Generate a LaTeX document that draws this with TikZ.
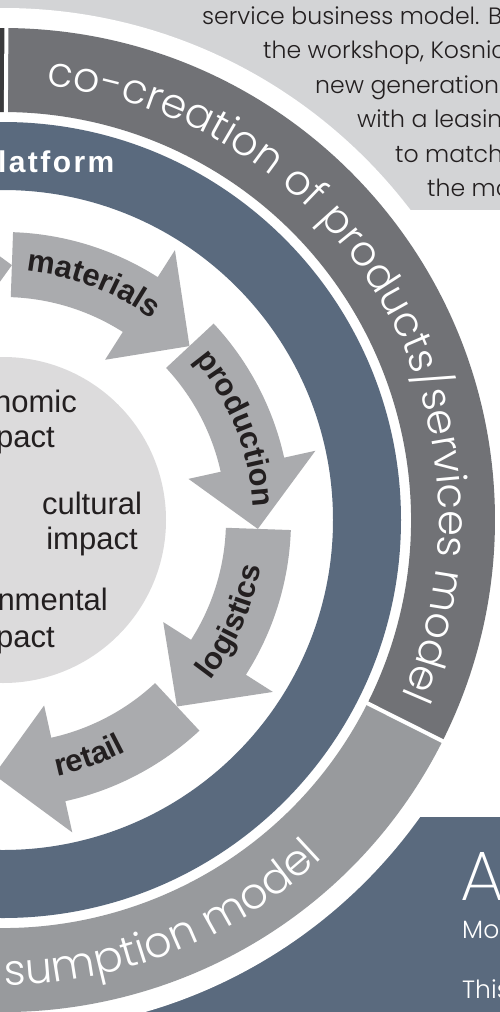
\documentclass[tikz,border=0pt]{standalone}
\usepackage{fontspec}
\setmainfont{Liberation Sans}
\IfFontExistsTF{Poppins Light}{\newfontfamily\gothic{Poppins Light}}{\newfontfamily\gothic{Poppins}}
\IfFontExistsTF{Poppins ExtraLight}{\newfontfamily\gothicthin{Poppins ExtraLight}}{\newfontfamily\gothicthin{Poppins}}
\newfontfamily\platfont{Liberation Sans}[LetterSpace=8]
\usetikzlibrary{decorations.text}
\definecolor{panelgray}{HTML}{D3D4D6}
\definecolor{ringdark}{HTML}{717276}
\definecolor{ringlight}{HTML}{989A9D}
\definecolor{ringblack}{HTML}{3A3A3C}
\definecolor{slate}{HTML}{5A6A7E}
\definecolor{arrowgray}{HTML}{AAABAE}
\definecolor{innergray}{HTML}{DCDBDC}
\definecolor{textdark}{HTML}{231F20}
\newcommand\arrowfnt{\fontsize{31pt}{31pt}\selectfont\bfseries}
\newcommand\ringfnt{\gothic\fontsize{41.5pt}{41.5pt}\selectfont}
\newcommand\ringfntb{\gothic\fontsize{43pt}{43pt}\selectfont}
\newcommand\annsector[5]{\fill[#1] (#2:#5) arc[start angle=#2,end angle=#3,radius=#5] -- (#3:#4) arc[start angle=#3,end angle=#2,radius=#4] -- cycle;}
\newcommand\cyclearrow[1]{%
  \pgfmathsetmacro\myArB{#1-30.5}%
  \pgfmathsetmacro\myArP{#1-45}%
  \fill[arrowgray] (#1:288pt) arc[start angle=#1,end angle=\myArB,radius=288pt]
    -- (\myArB:320pt) -- (\myArP:255pt) -- (\myArB:190pt) -- (\myArB:223pt)
    arc[start angle=\myArB,end angle=#1,radius=223pt] -- cycle;}
\tikzset{
  impact/.style={inner sep=0pt, text=textdark, font=\fontsize{31pt}{36pt}\selectfont},
  paneltext/.style={inner sep=0pt, anchor=base west, text=textdark, font=\gothic\fontsize{23.6pt}{30pt}\selectfont},
  boxtext/.style={inner sep=0pt, anchor=base west, text=white, font=\gothic\fontsize{25pt}{30pt}\selectfont},
  separator/.style={white, line width=4pt}
}
\begin{document}
\begin{tikzpicture}
\useasboundingbox (0,0) rectangle (500pt,-1012pt);
\clip (0,0) rectangle (500pt,-1012pt);
\fill[white] (0,0) rectangle (500pt,-1012pt);
\fill[panelgray] (0,0) rectangle (500pt,-210pt);
\fill[slate] (100pt,-817pt) rectangle (500pt,-1012pt);
\begin{scope}[shift={(3pt,-520pt)}]
  \coordinate (C) at (0,0);
  \fill[white] (C) circle[radius=512pt];
  \annsector{ringdark}{89.6}{-26.7}{408pt}{492pt}
  \annsector{ringlight}{-26.7}{-200}{408pt}{492pt}
  \annsector{ringblack}{200}{89.6}{408pt}{492pt}
  \draw[separator] (89.6:400pt) -- (89.6:500pt);
  \draw[separator] (-26.7:400pt) -- (-26.7:500pt);
  \fill[slate, even odd rule] (C) circle[radius=398pt] (C) circle[radius=330pt];
  \fill[innergray] (C) circle[radius=163pt];
  \cyclearrow{133}
  \cyclearrow{88}
  \cyclearrow{43}
  \cyclearrow{-2}
  \cyclearrow{-47}
  \path[decorate, decoration={text along path, text align=center, text color=textdark,
     text={|\arrowfnt|materials}}] (99:250pt) arc[start angle=99,end angle=39,radius=250pt];
  \path[decorate, decoration={text along path, text align=center, text color=textdark,
     text={|\arrowfnt|production}}] (51.5:250pt) arc[start angle=51.5,end angle=-8.5,radius=250pt];
  \path[decorate, decoration={text along path, text align=center, text color=textdark,
     text={|\arrowfnt|logistics}}] (-54:262pt) arc[start angle=-54,end angle=6,radius=262pt];
  \path[decorate, decoration={text along path, text align=center, text color=textdark,
     text={|\arrowfnt|retail}}] (-100:262pt) arc[start angle=-100,end angle=-40,radius=262pt];
  \path[decorate, decoration={text along path, text align=center, text color=white,
     text={|\ringfnt|co-creation of products/services model}}] (95.5:436pt) arc[start angle=95.5,end angle=-35,radius=436pt];
  \path[decorate, decoration={text along path, text align=center, text color=white,
     text={|\ringfntb|sumption model}}] (-108.9:465pt) arc[start angle=-108.9,end angle=-27.4,radius=465pt];
\end{scope}
\node[inner sep=0pt, anchor=base west, text=white, font=\platfont\bfseries\fontsize{30pt}{30pt}\selectfont] (plat) at (-2pt,-172pt) {latform};
\node[impact, anchor=base east] (econ1) at (77pt,-412pt) {nomic};
\node[impact, anchor=base east] (econ2) at (55pt,-447pt) {pact};
\node[impact, anchor=base] (cult1) at (92pt,-514pt) {cultural};
\node[impact, anchor=base] (cult2) at (92pt,-549pt) {impact};
\node[impact, anchor=base east] (env1) at (108pt,-610pt) {nmental};
\node[impact, anchor=base east] (env2) at (55pt,-647pt) {pact};
\node[paneltext] (p1) at (202pt,-24pt) {service business model. B};
\node[paneltext] (p2) at (263pt,-58.5pt) {the workshop, Kosnic};
\node[paneltext] (p3) at (315pt,-93pt) {new generation};
\node[paneltext] (p4) at (357pt,-127.5pt) {with a leasin};
\node[paneltext] (p5) at (395pt,-162pt) {to match};
\node[paneltext] (p6) at (427pt,-196.5pt) {the mo};
\node[boxtext, font=\gothicthin\fontsize{70pt}{70pt}\selectfont] (bA) at (460pt,-900pt) {A};
\node[boxtext] (bMo) at (462pt,-938pt) {Mo};
\node[boxtext] (bThis) at (462pt,-998pt) {This};
\end{tikzpicture}
\end{document}
